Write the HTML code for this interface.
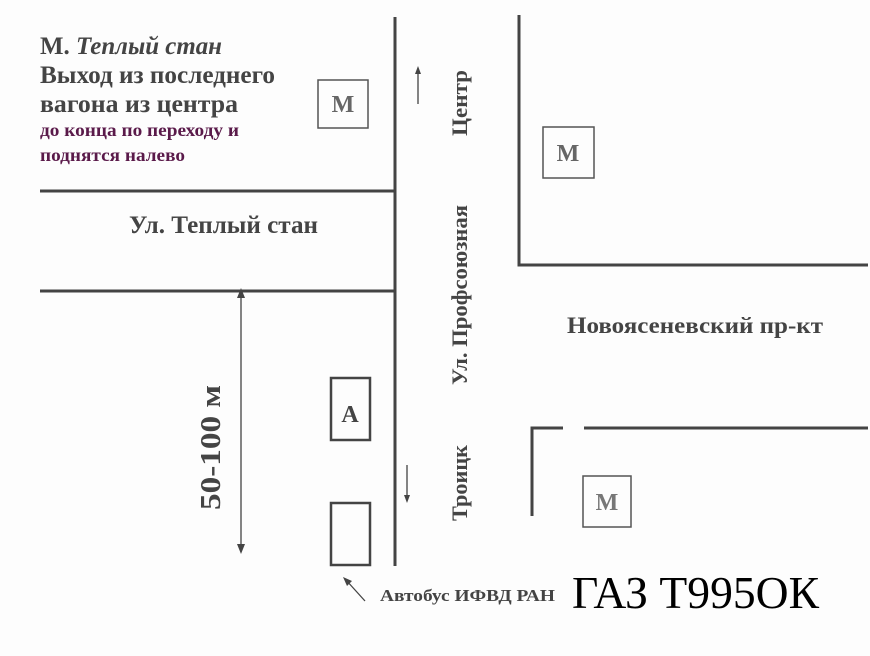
<!DOCTYPE html>
<html><head><meta charset="utf-8"><style>
html,body{margin:0;padding:0;background:#fdfdfd;}
svg{display:block}
text{font-family:"Liberation Serif","Noto Serif CJK SC",serif;font-weight:bold;fill:#444}
</style></head><body>
<svg width="870" height="656" viewBox="0 0 870 656" xmlns="http://www.w3.org/2000/svg">
<g stroke="#444" stroke-width="3" fill="none">
<line x1="395" y1="17" x2="395" y2="566"/>
<line x1="40" y1="191" x2="395" y2="191"/>
<line x1="40" y1="291" x2="395" y2="291"/>
<polyline points="519,15 519,265 868,265"/>
<polyline points="532,516 532,428 563,428"/>
<line x1="584" y1="428" x2="868" y2="428"/>
</g>
<g stroke="#555" stroke-width="1.5" fill="none">
<rect x="318" y="80" width="50" height="48"/>
<rect x="543" y="127" width="51" height="51"/>
<rect x="583" y="476" width="48" height="51"/>
</g>
<g stroke="#444" stroke-width="2.5" fill="none">
<rect x="331" y="378" width="39" height="62"/>
<rect x="331" y="503" width="39" height="62"/>
</g>
<g stroke="#444" stroke-width="1.3" fill="#444">
<line x1="241" y1="296" x2="241" y2="548"/>
<polygon points="241,288 237,298 245,298" stroke="none"/>
<polygon points="241,554 237,544 245,544" stroke="none"/>
<line x1="418" y1="72" x2="418" y2="104"/>
<polygon points="418,66 415,74 421,74" stroke="none"/>
<line x1="407" y1="465" x2="407" y2="497"/>
<polygon points="407,503 404,495 410,495" stroke="none"/>
<line x1="346" y1="580" x2="365" y2="601"/>
<polygon points="343,577 352,581 347,586" stroke="none"/>
</g>
<text x="40" y="54" font-size="25" textLength="182" lengthAdjust="spacingAndGlyphs">М. <tspan font-style="italic">Теплый стан</tspan></text>
<text x="40" y="83" font-size="25" textLength="235" lengthAdjust="spacingAndGlyphs">Выход из последнего</text>
<text x="40" y="112" font-size="25" textLength="198" lengthAdjust="spacingAndGlyphs">вагона из центра</text>
<text x="40" y="136" font-size="18" textLength="199" lengthAdjust="spacingAndGlyphs" style="fill:#5a1a4a">до конца по переходу и</text>
<text x="40" y="161" font-size="18" textLength="145" lengthAdjust="spacingAndGlyphs" style="fill:#5a1a4a">поднятся налево</text>
<text x="129" y="233" font-size="25" textLength="189" lengthAdjust="spacingAndGlyphs">Ул. Теплый стан</text>
<text x="567" y="333" font-size="23" textLength="256" lengthAdjust="spacingAndGlyphs">Новоясеневский пр-кт</text>
<text transform="translate(467,385) rotate(-90)" font-size="22" textLength="180" lengthAdjust="spacingAndGlyphs">Ул. Профсоюзная</text>
<text transform="translate(467,136) rotate(-90)" font-size="22" textLength="66" lengthAdjust="spacingAndGlyphs">Центр</text>
<text transform="translate(467,521) rotate(-90)" font-size="22" textLength="76" lengthAdjust="spacingAndGlyphs">Троицк</text>
<text transform="translate(220,510) rotate(-90)" font-size="29" textLength="125" lengthAdjust="spacingAndGlyphs">50-100  м</text>
<text x="380" y="601" font-size="17" textLength="175" lengthAdjust="spacingAndGlyphs">Автобус ИФВД РАН</text>
<text x="572" y="608" font-size="46" style="font-weight:normal;fill:#000" textLength="247" lengthAdjust="spacingAndGlyphs">ГАЗ Т995ОК</text>
<text x="343" y="112" font-size="24" text-anchor="middle" style="fill:#666">М</text>
<text x="568" y="161" font-size="24" text-anchor="middle" style="fill:#666">М</text>
<text x="607" y="510" font-size="24" text-anchor="middle" style="fill:#777">М</text>
<text x="350" y="422" font-size="24" text-anchor="middle">А</text>
</svg>
</body></html>
